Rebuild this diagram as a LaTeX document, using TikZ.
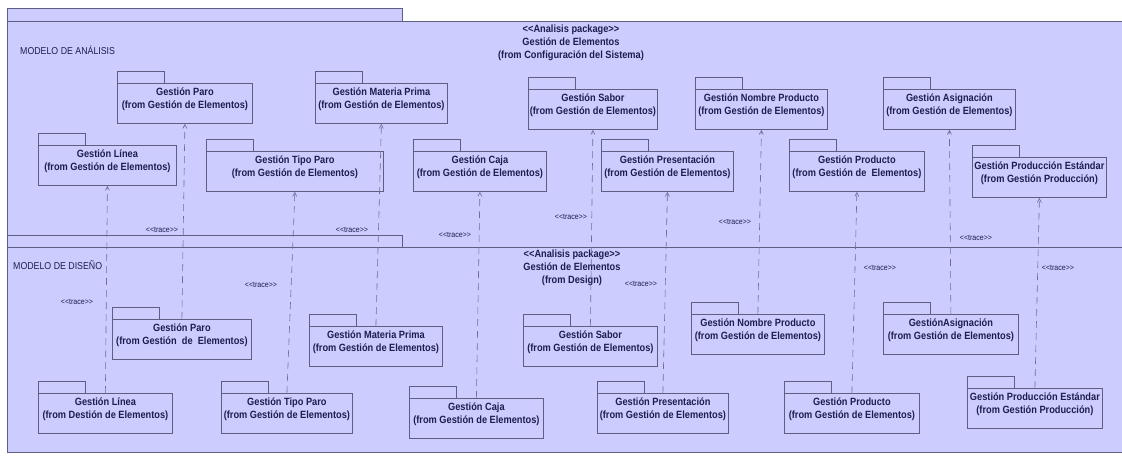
\documentclass[tikz,border=0pt]{standalone}
\usepackage{fontspec}
\setmainfont{Liberation Sans}[FakeStretch=0.88]
\usetikzlibrary{arrows.meta, positioning}
\definecolor{pkgfill}{HTML}{CCCCFF}
\definecolor{pkgline}{HTML}{5E5E80}
\definecolor{pkgtext}{HTML}{1E1E4E}
\definecolor{traceline}{HTML}{6E6E96}

\tikzset{
  pkgbody/.style={draw=pkgline, fill=pkgfill, line width=0.8pt, minimum height=40pt, inner sep=0pt, anchor=north west},
  pkgtab/.style={draw=pkgline, fill=pkgfill, line width=0.8pt},
  pkgname/.style={font=\fontsize{10.5}{13}\selectfont\bfseries, text=pkgtext, align=center, inner sep=0pt},
  modellbl/.style={font=\fontsize{10}{12}\selectfont, text=pkgtext, inner sep=0pt, anchor=west},
  trace/.style={draw=traceline, line width=0.6pt, dash pattern=on 7pt off 5pt, -{Straight Barb[length=4pt,width=4pt]}},
  tracelbl/.style={font=\fontsize{8}{9}\selectfont, text=pkgtext, inner sep=0pt}
}

% stereotype brackets, kept apart so they do not turn into guillemets
\newcommand{\stereo}[1]{<{}<#1>{}>}

% package with its tab: name, x, y (top of body), width, title, origin
\newcommand{\umlpkg}[6]{%
  \draw[pkgtab] (#2,#3) rectangle ++(47,-12);
  \node[pkgbody, minimum width=#4] (#1) at (#2,#3) {};
  \node[pkgname, below=5pt of #1.north] (#1-name) {#5\\#6};
}

\begin{document}
\begin{tikzpicture}[x=1pt, y=-1pt]
  \useasboundingbox (0,0) rectangle (1122,457);
  \fill[white] (0,0) rectangle (1122,457);

  % The two model packages
  \node[fill=pkgfill, minimum width=1115, minimum height=226, inner sep=0pt, anchor=north west] (analisis) at (7,21) {};
  \node[fill=pkgfill, minimum width=1115, minimum height=205, inner sep=0pt, anchor=north west] (diseno) at (7,247) {};
  \draw[pkgtab] (7,21) rectangle (402,8);
  \draw[pkgtab] (7,247) rectangle (402,235);
  \draw[pkgline, line width=0.8pt] (analisis.north east) -- (analisis.north west) -- (diseno.south west) -- (diseno.south east);
  \draw[pkgline, line width=0.8pt] (diseno.north west) -- (diseno.north east);

  \node[pkgname] (anaHead) at (571,43) {\stereo{Analisis package}\\Gestión de Elementos\\(from Configuración del Sistema)};
  \node[pkgname] (disHead) at (572,268) {\stereo{Analisis package}\\Gestión de Elementos\\(from Design)};
  \node[modellbl] (anaLbl) at (20,50) {MODELO DE ANÁLISIS};
  \node[modellbl] (disLbl) at (13,265) {MODELO DE DISEÑO};

  % Analysis packages
  \umlpkg{aLinea}{38}{145}{138}{Gestión Línea}{(from Gestión de Elementos)}
  \umlpkg{aParo}{117}{83}{135}{Gestión Paro}{(from Gestión de Elementos)}
  \umlpkg{aTipoParo}{206}{151}{177}{Gestión Tipo Paro}{(from Gestión de Elementos)}
  \umlpkg{aMateria}{315}{83}{132}{Gestión Materia Prima}{(from Gestión de Elementos)}
  \umlpkg{aCaja}{413}{151}{133}{Gestión Caja}{(from Gestión de Elementos)}
  \umlpkg{aSabor}{528}{89}{129}{Gestión Sabor}{(from Gestión de Elementos)}
  \umlpkg{aPresent}{601}{151}{132}{Gestión Presentación}{(from Gestión de Elementos)}
  \umlpkg{aNombre}{695}{89}{132}{Gestión Nombre Producto}{(from Gestión de Elementos)}
  \umlpkg{aProducto}{789}{151}{135}{Gestión Producto}{(from Gestión de \ Elementos)}
  \umlpkg{aAsign}{883}{89}{132}{Gestión Asignación}{(from Gestión de Elementos)}
  \umlpkg{aProdEst}{972}{157}{134}{Gestión Producción Estándar}{(from Gestión Producción)}

  % Design packages
  \umlpkg{dParo}{112}{319}{139}{Gestión Paro}{(from Gestión \ de \ Elementos)}
  \umlpkg{dLinea}{38}{393}{134}{Gestión Línea}{(from Destión de Elementos)}
  \umlpkg{dTipoParo}{221}{393}{131}{Gestión Tipo Paro}{(from Gestión de Elementos)}
  \umlpkg{dMateria}{309}{326}{133}{Gestión Materia Prima}{(from Gestión de Elementos)}
  \umlpkg{dCaja}{409}{398}{134}{Gestión Caja}{(from Gestión de Elementos)}
  \umlpkg{dSabor}{523}{326}{134}{Gestión Sabor}{(from Gestión de Elementos)}
  \umlpkg{dPresent}{597}{393}{131}{Gestión Presentación}{(from Gestión de Elementos)}
  \umlpkg{dNombre}{691}{314}{133}{Gestión Nombre Producto}{(from Gestión de Elementos)}
  \umlpkg{dAsign}{883}{314}{135}{GestiónAsignación}{(from Gestión de Elementos)}
  \umlpkg{dProducto}{784}{393}{135}{Gestión Producto}{(from Gestión de Elementos)}
  \umlpkg{dProdEst}{967}{388}{135}{Gestión Producción Estándar}{(from Gestión Producción)}

  % trace dependencies, design -> analysis
  \foreach \p in {Linea, Paro, TipoParo, Materia, Caja, Sabor, Present, Nombre, Producto, Asign, ProdEst}
    \draw[trace] (d\p.north) -- (a\p.south);

  \node[tracelbl] (trParo) at (162,230) {\stereo{trace}};
  \node[tracelbl] (trMateria) at (352,230) {\stereo{trace}};
  \node[tracelbl] (trCaja) at (455,235) {\stereo{trace}};
  \node[tracelbl] (trSabor) at (571,217) {\stereo{trace}};
  \node[tracelbl] (trNombre) at (735,222) {\stereo{trace}};
  \node[tracelbl] (trAsign) at (976,238) {\stereo{trace}};
  \node[tracelbl] (trLinea) at (77,302) {\stereo{trace}};
  \node[tracelbl] (trTipoParo) at (261,285) {\stereo{trace}};
  \node[tracelbl] (trPresent) at (641,284) {\stereo{trace}};
  \node[tracelbl] (trProducto) at (880,268) {\stereo{trace}};
  \node[tracelbl] (trProdEst) at (1058,268) {\stereo{trace}};
\end{tikzpicture}
\end{document}
